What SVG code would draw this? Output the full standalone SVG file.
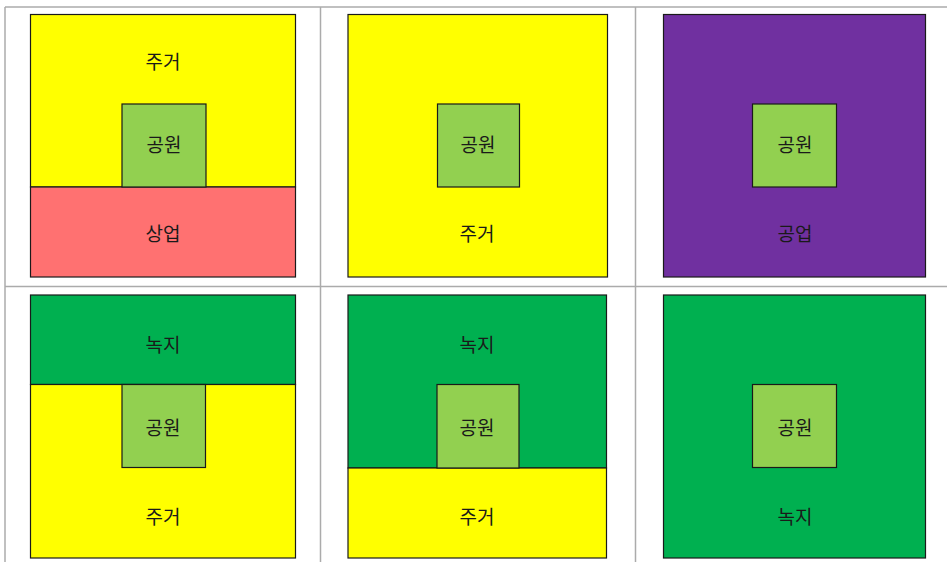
<svg xmlns="http://www.w3.org/2000/svg" width="947" height="562" viewBox="0 0 947 562">
<style>
.grid{stroke:#ababab;stroke-width:1.5;fill:none}
.z{stroke:#1a1a1a;stroke-width:1.2}
.res{fill:#ffff00}
.com{fill:#ff7171}
.ind{fill:#7030a0}
.grn{fill:#00b050}
.park{fill:#92d050}
text{font-family:"Noto Sans CJK KR","Noto Sans",sans-serif;font-size:19px;fill:#1a1a1a;text-anchor:middle;dominant-baseline:central}
</style>
<rect width="947" height="562" fill="#ffffff"/>
<g id="grid">
<line class="grid" x1="5" y1="7" x2="947" y2="7"/>
<line class="grid" x1="5" y1="286.5" x2="947" y2="286.5"/>
<line class="grid" x1="5" y1="7" x2="5" y2="562"/>
<line class="grid" x1="320.5" y1="7" x2="320.5" y2="562"/>
<line class="grid" x1="635.5" y1="7" x2="635.5" y2="562"/>
</g>
<g id="cell1">
<rect class="z res" x="30.5" y="14.5" width="265" height="172.5"/>
<rect class="z com" x="30.5" y="187" width="265" height="90"/>
<rect class="z park" x="122" y="104" width="84" height="83"/>
<text x="163" y="60.5">주거</text>
<text x="164" y="143.5">공원</text>
<text x="163" y="232.5">상업</text>
</g>
<g id="cell2">
<rect class="z res" x="348" y="14.5" width="259.5" height="262.5"/>
<rect class="z park" x="437.5" y="104" width="82" height="83"/>
<text x="478" y="143.5">공원</text>
<text x="477" y="232.5">주거</text>
</g>
<g id="cell3">
<rect class="z ind" x="663.5" y="14.5" width="262" height="262.5"/>
<rect class="z park" x="752.5" y="104" width="84" height="83"/>
<text x="795" y="143.5">공원</text>
<text x="795" y="232.5">공업</text>
</g>
<g id="cell4">
<rect class="z grn" x="30.5" y="295" width="265" height="89.5"/>
<rect class="z res" x="30.5" y="384.5" width="265" height="173.5"/>
<rect class="z park" x="122" y="384.5" width="83.5" height="83"/>
<text x="163" y="343.5">녹지</text>
<text x="163" y="426.5">공원</text>
<text x="163" y="515.5">주거</text>
</g>
<g id="cell5">
<rect class="z grn" x="348" y="295" width="258.5" height="173"/>
<rect class="z res" x="348" y="468" width="258.5" height="90"/>
<rect class="z park" x="437" y="384.5" width="82" height="83.5"/>
<text x="477" y="343.5">녹지</text>
<text x="477" y="426.5">공원</text>
<text x="477" y="515.5">주거</text>
</g>
<g id="cell6">
<rect class="z grn" x="663.5" y="295" width="262" height="263"/>
<rect class="z park" x="752.5" y="384.5" width="84" height="83"/>
<text x="795" y="426.5">공원</text>
<text x="795" y="515.5">녹지</text>
</g>
</svg>
